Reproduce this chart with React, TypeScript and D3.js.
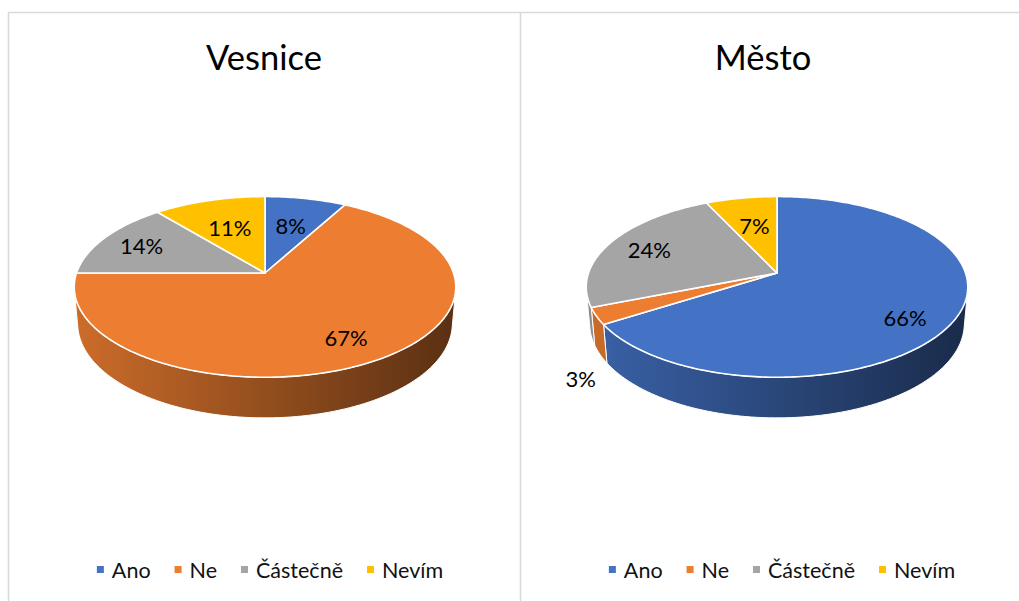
import React, { useEffect, useRef } from "react";
import * as d3 from "d3";

const categories = ["Ano", "Ne", "Částečně", "Nevím"];
const colors = ["#4472C4", "#ED7D31", "#A5A5A5", "#FFC000"];
const titles = ["Vesnice", "Město"];
const vesniceValues = [8, 67, 14, 11];
const mestoValues = [66, 3, 24, 7];

const W = 1019;
const H = 601;
const FONT = "Lato, 'Open Sans', sans-serif";

// 3D projection parameters (unit radius disk)
const ALPHA = (27.9 * Math.PI) / 180;
const SA = Math.sin(ALPHA);
const CA = Math.cos(ALPHA);
const DIST = 5.74;
const FOCAL = 1082;
const THICK = 0.222;

const panels = [
  { cx: 265, cy: 273, titleX: 264, title: titles[0], values: vesniceValues, legendCenter: 270 },
  { cx: 777, cy: 273, titleX: 763, title: titles[1], values: mestoValues, legendCenter: 782 },
];

function project(cx: number, cy: number, X: number, Y: number, Z: number): [number, number] {
  const depth = DIST + Y * CA - Z * SA;
  const yc = Y * SA + Z * CA;
  return [cx + (FOCAL * X) / depth, cy - (FOCAL * yc) / depth];
}

function polar(cx: number, cy: number, a: number, r: number, z: number) {
  return project(cx, cy, r * Math.sin(a), r * Math.cos(a), z);
}

function scaleColor(c: string, k: number) {
  const rgb = d3.rgb(c);
  return d3.rgb(rgb.r * k, rgb.g * k, rgb.b * k).formatHex();
}

export default function App() {
  const ref = useRef<SVGSVGElement | null>(null);

  useEffect(() => {
    const svg = d3.select(ref.current);
    svg.selectAll("*").remove();
    const defs = svg.append("defs");

    // panel frames
    const frame = svg.append("g").attr("stroke", "#d9d9d9").attr("stroke-width", 1.6).attr("fill", "none");
    frame.append("line").attr("x1", 8).attr("x2", W).attr("y1", 12.5).attr("y2", 12.5);
    frame.append("line").attr("x1", 8.5).attr("x2", 8.5).attr("y1", 12).attr("y2", H);
    frame.append("line").attr("x1", 520.5).attr("x2", 520.5).attr("y1", 12).attr("y2", H);

    const pie = d3
      .pie<number>()
      .sort(null)
      .value((d) => d)
      .startAngle(0)
      .endAngle(2 * Math.PI);

    const line = d3.line<[number, number]>();
    const visA = Math.acos(-1 / (DIST * CA));
    const visB = 2 * Math.PI - visA;

    panels.forEach((p, pi) => {
      const g = svg.append("g");
      const arcs = pie(p.values);

      // gradients for walls
      colors.forEach((c, ci) => {
        const gr = defs
          .append("linearGradient")
          .attr("id", `wall-${pi}-${ci}`)
          .attr("gradientUnits", "userSpaceOnUse")
          .attr("x1", p.cx - 190)
          .attr("x2", p.cx + 190)
          .attr("y1", 0)
          .attr("y2", 0);
        gr.append("stop").attr("offset", 0).attr("stop-color", scaleColor(c, 0.86));
        gr.append("stop").attr("offset", 0.5).attr("stop-color", scaleColor(c, 0.62));
        gr.append("stop").attr("offset", 1).attr("stop-color", scaleColor(c, 0.38));
      });

      // title
      g.append("text")
        .attr("x", p.titleX)
        .attr("y", 70)
        .attr("text-anchor", "middle")
        .attr("font-family", FONT)
        .attr("font-size", 34.5)
        .attr("fill", "#000")
        .text(p.title);

      // walls
      arcs.forEach((a, i) => {
        const t0 = Math.max(a.startAngle, visA);
        const t1 = Math.min(a.endAngle, visB);
        if (t1 <= t0) return;
        const n = Math.max(2, Math.ceil(((t1 - t0) / (2 * Math.PI)) * 240));
        const top: [number, number][] = [];
        const bot: [number, number][] = [];
        for (let k = 0; k <= n; k++) {
          const t = t0 + ((t1 - t0) * k) / n;
          top.push(polar(p.cx, p.cy, t, 1, 0));
          bot.push(polar(p.cx, p.cy, t, 1, -THICK));
        }
        const pts = top.concat(bot.reverse());
        g.append("path")
          .attr("d", line(pts) + "Z")
          .attr("fill", `url(#wall-${pi}-${i})`)
          .attr("stroke", "#fff")
          .attr("stroke-width", 1)
          .attr("stroke-linejoin", "round");
      });

      // top faces
      arcs.forEach((a, i) => {
        const n = Math.max(2, Math.ceil(((a.endAngle - a.startAngle) / (2 * Math.PI)) * 360));
        const pts: [number, number][] = [project(p.cx, p.cy, 0, 0, 0)];
        for (let k = 0; k <= n; k++) {
          const t = a.startAngle + ((a.endAngle - a.startAngle) * k) / n;
          pts.push(polar(p.cx, p.cy, t, 1, 0));
        }
        g.append("path")
          .attr("d", line(pts) + "Z")
          .attr("fill", colors[i])
          .attr("stroke", "#fff")
          .attr("stroke-width", 1.6)
          .attr("stroke-linejoin", "round");
      });

      // data labels
      arcs.forEach((a) => {
        const mid = (a.startAngle + a.endAngle) / 2;
        let pos: [number, number];
        if (a.data < 5) {
          const q = polar(p.cx, p.cy, mid, 1.1, -THICK);
          pos = [q[0], q[1] + 19];
        } else {
          const f = a.data < 12 ? 0.6 : 0.76;
          pos = polar(p.cx, p.cy, mid, f, 0);
          if (a.data >= 50 && mid < Math.PI * 0.75) pos = [pos[0] - 5, pos[1] + 10];
        }
        g.append("text")
          .attr("x", pos[0])
          .attr("y", pos[1])
          .attr("text-anchor", "middle")
          .attr("dominant-baseline", "central")
          .attr("font-family", FONT)
          .attr("font-size", 22)
          .attr("fill", "#000")
          .text(`${a.data}%`);
      });

      // legend
      const leg = g.append("g");
      let x = 0;
      categories.forEach((c, i) => {
        const t = leg
          .append("text")
          .attr("y", 577.5)
          .attr("font-family", FONT)
          .attr("font-size", 21.5)
          .attr("fill", "#111")
          .text(c);
        const w = (t.node() as SVGTextElement).getComputedTextLength();
        t.attr("x", x + 15);
        leg.append("rect").attr("x", x).attr("y", 566).attr("width", 7).attr("height", 7).attr("fill", colors[i]);
        x += 15 + w + 24;
      });
      const total = x - 24;
      leg.attr("transform", `translate(${p.legendCenter - total / 2},0)`);
    });
  }, []);

  return (
    <svg
      ref={ref}
      width={W}
      height={H}
      style={{ position: "absolute", left: 0, top: 0, background: "#fff" }}
    />
  );
}
